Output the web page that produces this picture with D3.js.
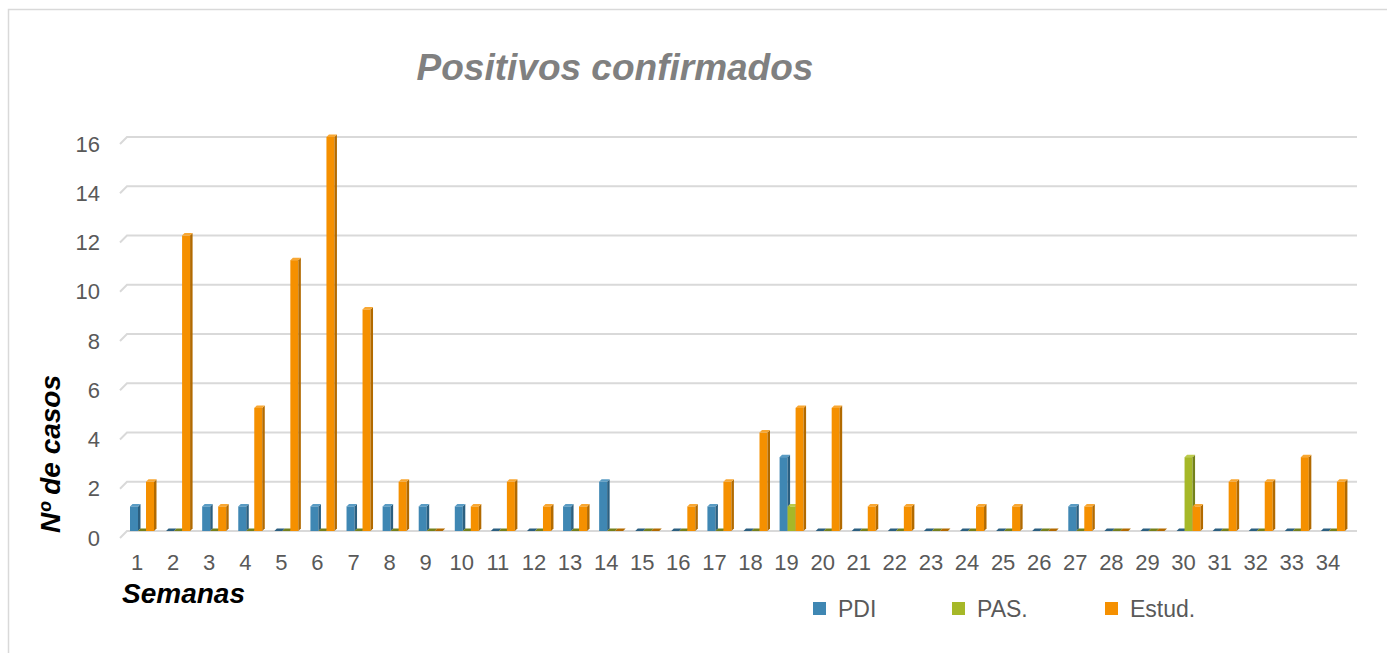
<!DOCTYPE html>
<html><head><meta charset="utf-8">
<script src="https://cdn.jsdelivr.net/npm/d3@7"></script>
<style>body{margin:0;background:#fff;font-family:"Liberation Sans",Arial,sans-serif}</style>
</head><body><svg id="c" width="1387" height="653"></svg>
<script>
const weeks = d3.range(1, 35).map(String);
const seriesNames = ["PDI", "PAS.", "Estud."];
const pdi   = [1,0,1,1,0,1,1,1,1,1,0,0,1,2,0,0,1,0,3,0,0,0,0,0,0,0,1,0,0,0,0,0,0,0];
const pas   = [0,0,0,0,0,0,0,0,0,0,0,0,0,0,0,0,0,0,1,0,0,0,0,0,0,0,0,0,0,3,0,0,0,0];
const estud = [2,12,1,5,11,16,9,2,0,1,2,1,1,0,0,1,2,4,5,5,1,1,0,1,1,0,1,0,0,1,2,2,3,2];
const yTicks = [0,2,4,6,8,10,12,14,16];
const colors = {
  "PDI":    {front:"#3f87b3", side:"#2b5f80", top:"#5a9cc4"},
  "PAS.":   {front:"#a6b828", side:"#74811c", top:"#bccb4c"},
  "Estud.": {front:"#f59000", side:"#b26a00", top:"#f8a733"}
};
const seriesData = {"PDI": pdi, "PAS.": pas, "Estud.": estud};

const svg = d3.select("#c");
svg.append("rect").attr("x",8.5).attr("y",9.5).attr("width",1400).attr("height",700)
  .attr("fill","none").attr("stroke","#d9d9d9").attr("stroke-width",1.5);

const x = d3.scaleBand().domain(weeks).range([122, 1349]).padding(0);
const x1 = d3.scaleBand().domain(seriesNames).range([8, 32]).padding(0);
const y = d3.scaleLinear().domain([0,16]).range([531,137]);
const D = 2.5;

const g = svg.append("g");
yTicks.forEach(v=>{
  const yy = y(v);
  g.append("path").attr("d",`M120,${yy+7} L127,${yy} L1357,${yy}`)
   .attr("fill","none").attr("stroke","#d9d9d9").attr("stroke-width",2);
});

svg.append("g").selectAll("text").data(yTicks).join("text")
  .attr("x",100).attr("y",d=>y(d)+7).attr("dy","0.35em").attr("text-anchor","end")
  .attr("font-size",22).attr("fill","#595959").text(d=>d);

svg.append("g").selectAll("text").data(weeks).join("text")
  .attr("x",d=>x(d)+15).attr("y",570).attr("text-anchor","middle")
  .attr("font-size",22).attr("fill","#595959").text(d=>d);

const bars = svg.append("g");
weeks.forEach((w,i)=>{
  seriesNames.forEach(s=>{
    const v = seriesData[s][i];
    const x0 = x(w) + x1(s), w0 = x1.bandwidth();
    const yt = y(v), yb = y(0);
    const c = colors[s];
    if (v > 0) {
      bars.append("rect").attr("x",x0).attr("y",yt).attr("width",w0).attr("height",yb-yt).attr("fill",c.front);
      bars.append("path").attr("d",`M${x0+w0},${yt} L${x0+w0+D},${yt-D} L${x0+w0+D},${yb-D} L${x0+w0},${yb}Z`).attr("fill",c.side);
    }
    bars.append("path").attr("d",`M${x0},${yt} L${x0+D},${yt-D} L${x0+w0+D},${yt-D} L${x0+w0},${yt}Z`).attr("fill", v>0?c.top:c.side);
  });
});

svg.append("text").attr("x",615).attr("y",80).attr("text-anchor","middle")
  .attr("font-size",37).attr("font-weight","bold").attr("font-style","italic")
  .attr("fill","#808080").text("Positivos confirmados");

svg.append("text").attr("transform","translate(60,454) rotate(-90)").attr("text-anchor","middle")
  .attr("font-size",28).attr("font-weight","bold").attr("font-style","italic")
  .attr("fill","#000").text("Nº de casos");
svg.append("text").attr("x",122).attr("y",603)
  .attr("font-size",28).attr("font-weight","bold").attr("font-style","italic")
  .attr("fill","#000").text("Semanas");

const legX = [813, 952, 1105];
const leg = svg.append("g");
seriesNames.forEach((s,i)=>{
  leg.append("rect").attr("x",legX[i]).attr("y",602).attr("width",13).attr("height",13).attr("fill",colors[s].front);
  leg.append("text").attr("x",legX[i]+25).attr("y",617).attr("font-size",23).attr("fill","#595959").text(s);
});
</script></body></html>
